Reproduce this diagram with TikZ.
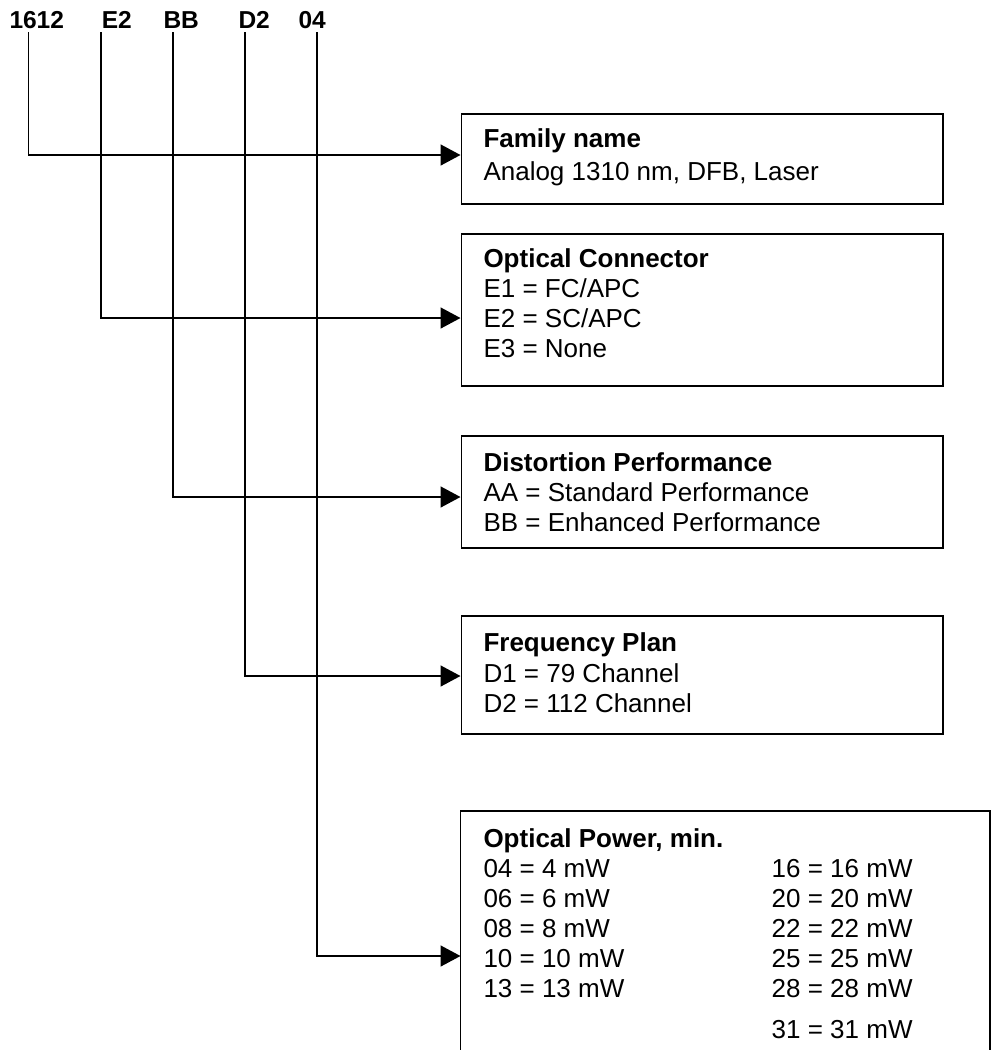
\documentclass[tikz,border=0pt]{standalone}
\usepackage{fontspec}
\setmainfont{Liberation Sans}
\usetikzlibrary{arrows.meta}
\begin{document}
\begin{tikzpicture}[x=1pt,y=-1pt,
  box/.style={draw, line width=1.9pt, anchor=north west, inner sep=0pt, minimum width=481.5pt},
  conn/.style={line width=1.6pt, -{Triangle[length=20pt,width=21pt]}},
  lbl/.style={anchor=base west, inner sep=0pt, font=\fontsize{24.5}{28}\selectfont\bfseries},
  txt/.style={anchor=base west, inner sep=0pt, font=\fontsize{26}{30}\selectfont},
  ttl/.style={anchor=base west, inner sep=0pt, font=\fontsize{26}{30}\selectfont\bfseries}]
\useasboundingbox (0,0) rectangle (992,1050);

% code labels
\node[lbl] (l1) at (9.3,28.3) {1612};
\node[lbl] (l2) at (101.7,28.3) {E2};
\node[lbl] (l3) at (163.3,28.3) {BB};
\node[lbl] (l4) at (238.3,28.3) {D2};
\node[lbl] (l5) at (298.3,28.3) {04};

% boxes
\node[box, minimum height=90pt] (b1) at (460.5,113) {};
\node[box, minimum height=152pt] (b2) at (460.5,233) {};
\node[box, minimum height=112pt] (b3) at (460.5,435) {};
\node[box, minimum height=118pt] (b4) at (460.5,615) {};
\node[anchor=north west, inner sep=0pt, minimum width=529.5pt, minimum height=260pt] (b5) at (460.5,811) {};
\draw[line width=1.9pt] (b5.south west) -- (b5.north west) -- (b5.north east) -- (b5.south east);

% box 1
\node[ttl] (t11) at (483.3,147) {Family name};
\node[txt] (t12) at (483.3,180) {Analog 1310 nm, DFB, Laser};
% box 2
\node[ttl] (t21) at (483.3,267.5) {Optical Connector};
\node[txt] (t22) at (483.3,297) {E1 = FC/APC};
\node[txt] (t23) at (483.3,327) {E2 = SC/APC};
\node[txt] (t24) at (483.3,357) {E3 = None};
% box 3
\node[ttl] (t31) at (483.3,471.5) {Distortion Performance};
\node[txt] (t32) at (483.3,501.5) {AA = Standard Performance};
\node[txt] (t33) at (483.3,531) {BB = Enhanced Performance};
% box 4
\node[ttl] (t41) at (483.3,651) {Frequency Plan};
\node[txt] (t42) at (483.3,682) {D1 = 79 Channel};
\node[txt] (t43) at (483.3,712) {D2 = 112 Channel};
% box 5
\node[ttl] (t51) at (483.3,847) {Optical Power, min.};
\node[txt] (p1) at (483.3,877) {04 = 4 mW};
\node[txt] (p2) at (483.3,907) {06 = 6 mW};
\node[txt] (p3) at (483.3,937) {08 = 8 mW};
\node[txt] (p4) at (483.3,967) {10 = 10 mW};
\node[txt] (p5) at (483.3,997) {13 = 13 mW};
\node[txt] (q1) at (771.5,877) {16 = 16 mW};
\node[txt] (q2) at (771.5,907) {20 = 20 mW};
\node[txt] (q3) at (771.5,937) {22 = 22 mW};
\node[txt] (q4) at (771.5,967) {25 = 25 mW};
\node[txt] (q5) at (771.5,997) {28 = 28 mW};
\node[txt] (q6) at (771.5,1038) {31 = 31 mW};

% connector start and end points
\coordinate (v1) at (28.5,32);
\coordinate (v2) at (101,32);
\coordinate (v3) at (173,32);
\coordinate (v4) at (245,32);
\coordinate (v5) at (317,32);
\coordinate (a1) at (b1.west |- 0,155);
\coordinate (a2) at (b2.west |- 0,318);
\coordinate (a3) at (b3.west |- 0,497);
\coordinate (a4) at (b4.west |- 0,676);
\coordinate (a5) at (b5.west |- 0,956);

\draw[conn] (v1) |- (a1);
\draw[conn] (v2) |- (a2);
\draw[conn] (v3) |- (a3);
\draw[conn] (v4) |- (a4);
\draw[conn] (v5) |- (a5);
\end{tikzpicture}
\end{document}
